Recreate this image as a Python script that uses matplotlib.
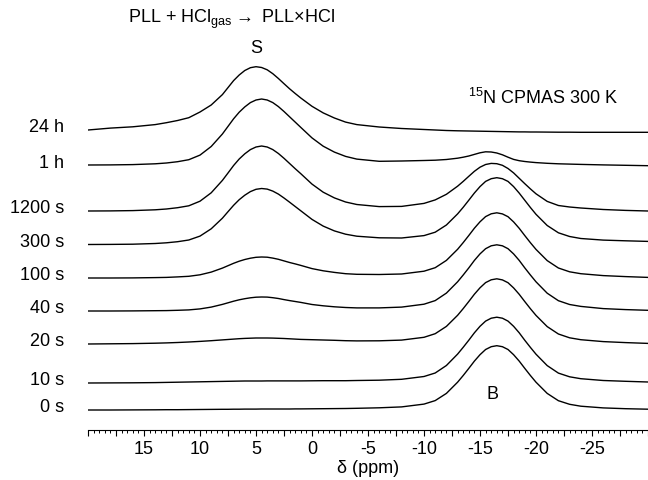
import matplotlib
matplotlib.use("Agg")
import matplotlib.pyplot as plt
from matplotlib.ticker import MultipleLocator, FuncFormatter
from matplotlib.transforms import blended_transform_factory

plt.rcParams['font.family'] = ['Liberation Sans', 'DejaVu Sans']
plt.rcParams['mathtext.default'] = 'regular'

# chemical shift grid (ppm) shared by all traces
ppm = [20, 18, 16, 14, 13, 12, 11, 10, 9, 8,
       7.5, 7, 6.5, 6, 5.5, 5, 4.5, 4, 3.5, 3, 2.5, 2, 1.5,
       1, 0, -1, -2, -3, -4,
       -6, -8, -10,
       -11, -12, -13,
       -13.5, -14, -14.5, -15, -15.5, -16, -16.5, -17, -17.5, -18, -18.5, -19, -19.5,
       -20, -21, -22, -23, -24,
       -26, -28, -30]

labels = ['24 h', '1 h', '1200 s', '300 s', '100 s', '40 s', '20 s', '10 s', '0 s']
offsets = [299.5, 264.5, 218.5, 185, 151.5, 118.5, 85.5, 46.5, 19.5]

# intensities (same units as the vertical stacking)
int_24h = [0, 1.9, 3.2, 5.4, 7.3, 9.5, 12.3, 18, 25, 35.4,
           42.4, 49.4, 55, 59.5, 62.3, 63.3, 62.5, 60.2, 56.3, 51.5, 46.3, 41.2, 36.5,
           32, 23.7, 17.1, 12, 7.9, 5.4,
           3, 1.5, 0.5,
           0, -0.5, -0.8,
           -0.9, -1, -1.1, -1.2, -1.3, -1.4, -1.5, -1.6, -1.7, -1.8, -1.9, -1.9, -2,
           -2, -2.1, -2.2, -2.2, -2.3,
           -2.3, -2.3, -2.3]
int_1h = [0, 0.1, 0.4, 1.2, 2, 3.3, 5.3, 9.9, 18.5, 31,
          38.6, 46.2, 52.8, 58.1, 62.4, 65, 66, 65, 62.4, 58.4, 53.5, 48.2, 42.9,
          37.6, 27.1, 18.8, 12.9, 8.6, 5.9,
          3.7, 4, 4.5,
          4.8, 5.5, 6.8,
          7.8, 9, 10.6, 12.2, 13.2, 13, 12, 10.2, 7.8, 5.6, 4.3, 3.5, 2.9,
          2.4, 1.7, 1.2, 0.9, 0.6,
          0.1, -0.3, -0.7]
int_1200s = [0, 0.1, 0.4, 1.2, 2, 3.3, 5.2, 9.8, 18.2, 30.6,
             38, 45.5, 52, 57.2, 61.4, 64, 65, 64, 61.4, 57.5, 52.7, 47.5, 42.3,
             37.3, 26.9, 18.8, 13.1, 9, 6.5,
             4.4, 4.6, 7.6,
             11.1, 16.7, 24.8,
             29.6, 34.7, 39.7, 43.8, 46.5, 47.6, 47.3, 45.7, 42.5, 38.1, 32.7, 27.3, 22.1,
             17.2, 9.6, 5.5, 4, 3,
             1.5, 0.6, 0]
int_300s = [0, 0.1, 0.3, 1, 1.7, 2.8, 4.5, 8.4, 15.7, 26.3,
            32.8, 39.2, 44.8, 49.3, 52.9, 55.2, 56, 55.4, 53.4, 50.4, 46.5, 42.3, 38,
            33.7, 25.1, 18.4, 13.6, 10.3, 8.3,
            6.7, 6.5, 8.9,
            12.3, 19.5, 30.6,
            37.2, 44.3, 51.5, 57.9, 63.1, 65.8, 66.8, 65.8, 63.1, 57.9, 51.4, 44.2, 37,
            30.2, 19, 11.7, 8, 6,
            4.4, 3.7, 3.1]
int_100s = [0, 0, 0.1, 0.4, 0.6, 1.1, 1.7, 3.2, 5.9, 9.9,
            12.3, 14.7, 16.8, 18.5, 19.8, 20.7, 21, 20.8, 19.9, 18.7, 17.1, 15.5, 14.1,
            12.6, 9.4, 7.2, 5.6, 4.3, 3.7,
            3.5, 4, 6.8,
            10.3, 17.6, 28.7,
            35.4, 42.5, 49.8, 56.2, 61.4, 64.2, 65.2, 64.1, 61.3, 56.1, 49.7, 42.4, 35.3,
            28.6, 17.4, 10, 6.2, 4.3,
            2.4, 1.4, 0.6]
int_40s = [0, 0, 0.1, 0.3, 0.4, 0.7, 1.1, 2.1, 3.9, 6.6,
           8.2, 9.8, 11.2, 12.3, 13.2, 13.8, 14, 13.9, 13.3, 12.5, 11.4, 10.4, 9.5,
           8.6, 6.5, 5.2, 4.2, 3.5, 3.1,
           3.1, 3.9, 6.8,
           10.4, 17.9, 29.2,
           36, 43.1, 50.6, 57.1, 62.3, 65.2, 66.2, 65.2, 62.3, 57.1, 50.6, 43.1, 36,
           29.2, 17.8, 10.3, 6.5, 4.6,
           2.4, 1.4, 0.7]
int_20s = [0, 0.2, 0.4, 0.8, 1.1, 1.5, 2, 2.6, 3.3, 4.1,
           4.5, 4.9, 5.3, 5.6, 5.8, 6, 6, 6, 5.9, 5.7, 5.5, 5.2, 4.9,
           4.6, 4.3, 4, 3.7, 3.3, 3.1,
           3.2, 3.9, 6.7,
           10.3, 17.6, 28.7,
           35.4, 42.5, 49.8, 56.2, 61.4, 64.2, 65.2, 64.1, 61.3, 56.1, 49.7, 42.4, 35.3,
           28.6, 17.4, 10, 6.2, 4.3,
           2.4, 1.4, 0.6]
int_10s = [0, 0.1, 0.2, 0.4, 0.6, 0.8, 1, 1.2, 1.4, 1.6,
           1.7, 1.8, 1.9, 2, 2, 2, 2, 2.1, 2.1, 2.1, 2.1, 2.1, 2.1,
           2.1, 2.2, 2.3, 2.3, 2.3, 2.5,
           2.8, 3.7, 6.5,
           10, 17.5, 28.9,
           35.7, 42.8, 50.2, 56.7, 61.9, 64.8, 65.8, 64.8, 61.9, 56.7, 50.2, 42.7, 35.6,
           28.8, 17.4, 9.9, 6.2, 4.3,
           2.5, 1.7, 1]
int_0s = [0, 0, 0.1, 0.2, 0.3, 0.3, 0.4, 0.5, 0.6, 0.7,
          0.7, 0.8, 0.8, 0.9, 0.9, 0.9, 1, 1, 1, 1, 1, 1, 1.1,
          1.1, 1.2, 1.3, 1.4, 1.5, 1.7,
          2.2, 3.1, 5.9,
          9.4, 16.6, 27.8,
          34.5, 41.6, 48.9, 55.3, 60.5, 63.3, 64.3, 63.3, 60.5, 55.3, 48.9, 41.6, 34.5,
          27.8, 16.6, 9.3, 5.7, 3.8,
          2.1, 1.3, 0.8]

spectra = [int_24h, int_1h, int_1200s, int_300s, int_100s, int_40s, int_20s, int_10s, int_0s]

fig = plt.figure(figsize=(6.48, 4.81), dpi=100)
ax = fig.add_axes([88 / 648, 50.5 / 481, 560 / 648, 430.5 / 481])

for off, spec in zip(offsets, spectra):
    ax.plot(ppm, [off + v for v in spec], color='black', lw=1.0)

ax.set_xlim(20, -30)
ax.set_ylim(0, 430.5)

for side in ['left', 'right', 'top']:
    ax.spines[side].set_visible(False)
ax.spines['bottom'].set_linewidth(0.8)
ax.set_yticks([])

ax.xaxis.set_major_locator(MultipleLocator(2.5))
ax.xaxis.set_minor_locator(MultipleLocator(0.5))
ax.xaxis.set_major_formatter(FuncFormatter(
    lambda v, p: f'{v:g}' if abs(v % 5) < 1e-6 and -26 < v < 16 else ''))
ax.tick_params(axis='x', which='major', length=4.3, width=0.8, pad=3, labelsize=13)
ax.tick_params(axis='x', which='minor', length=2.2, width=0.7)
ax.set_xlabel('δ (ppm)', fontsize=13, labelpad=2)

trans = blended_transform_factory(fig.transFigure, ax.transData)
for lab, off in zip(labels, offsets):
    ax.text(64 / 648, off + 3, lab, transform=trans, ha='right', va='center', fontsize=13)

fig.text(231 / 648, 1 - 19 / 481, r'PLL + HCl$_{gas}\rightarrow$ PLL×HCl',
         ha='center', va='center', fontsize=13)
ax.text(5.0, 382, 'S', ha='center', va='center', fontsize=13)
ax.text(-16.1, 35.5, 'B', ha='center', va='center', fontsize=13)
fig.text(543 / 648, 1 - 98 / 481, '$^{15}$N CPMAS 300 K', ha='center', va='center', fontsize=13)

fig.savefig('out.png', dpi=100)
